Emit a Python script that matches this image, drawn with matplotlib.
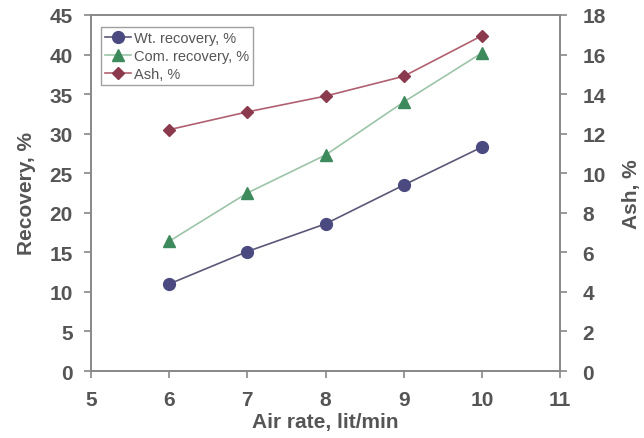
import matplotlib
matplotlib.use("Agg")
import matplotlib.pyplot as plt

# data
air_rate = [6, 7, 8, 9, 10]
wt_recovery = [11.0, 15.1, 18.6, 23.5, 28.3]
com_recovery = [16.4, 22.5, 27.3, 34.0, 40.2]
ash = [12.2, 13.1, 13.9, 14.9, 16.95]

plt.rcParams['font.family'] = ['Liberation Sans', 'DejaVu Sans']
txt = '#555555'
axc = '#888888'

fig = plt.figure(figsize=(6.44, 4.39), dpi=100)
ax = fig.add_axes([0.1413, 0.1526, 0.7283, 0.811])
ax2 = ax.twinx()

l1, = ax.plot(air_rate, wt_recovery, color='#5a5878', lw=1.2, marker='o', ms=8.5,
              mfc='#4b4a80', mec='#4b4a80', label='Wt. recovery, %')
l2, = ax.plot(air_rate, com_recovery, color='#9cc4a8', lw=1.2, marker='^', ms=8.5,
              mfc='#3d8a5c', mec='#3d8a5c', label='Com. recovery, %')
l3, = ax2.plot(air_rate, ash, color='#b06070', lw=1.2, marker='D', ms=6,
               mfc='#8a3a4c', mec='#8a3a4c', label='Ash, %')

ax.set_xlim(5, 11)
ax.set_ylim(0, 45)
ax2.set_ylim(0, 18)
ax.set_xticks(range(5, 12))
ax.set_yticks(range(0, 50, 5))
ax2.set_yticks(range(0, 20, 2))

for a in (ax, ax2):
    for s in a.spines.values():
        s.set_color(axc)
        s.set_linewidth(1.2)
    a.tick_params(colors=axc, labelcolor=txt, labelsize=15, width=1.2, length=5)
ax.tick_params(axis='x', pad=9)
ax.tick_params(axis='y', pad=8)
ax2.tick_params(axis='y', pad=11)
for lab in ax.get_xticklabels() + ax.get_yticklabels() + ax2.get_yticklabels():
    lab.set_fontweight('bold')

ax.set_xlabel('Air rate, lit/min', fontsize=15, fontweight='bold', color=txt, labelpad=2)
ax.set_ylabel('Recovery, %', fontsize=15, fontweight='bold', color=txt, labelpad=10)
ax2.set_ylabel('Ash, %', fontsize=15, fontweight='bold', color=txt, labelpad=12)

leg = ax.legend(handles=[l1, l2, l3], loc='upper left', bbox_to_anchor=(0.021, 0.966),
                borderaxespad=0, fontsize=10.5, frameon=True, fancybox=False,
                borderpad=0.3, handlelength=1.8, handletextpad=0.15, labelspacing=0.25)
leg.get_frame().set_edgecolor(axc)
leg.get_frame().set_linewidth(1.0)
for t in leg.get_texts():
    t.set_color(txt)

fig.savefig('out.png', dpi=100)
